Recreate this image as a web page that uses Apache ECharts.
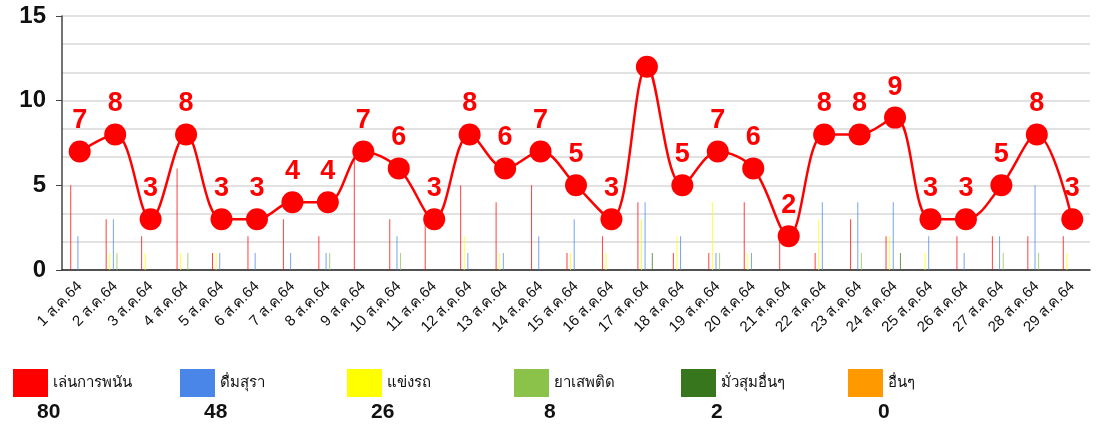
<!DOCTYPE html>
<html>
<head>
<meta charset="utf-8">
<script src="https://cdn.jsdelivr.net/npm/echarts@6/dist/echarts.min.js"></script>
<style>
  html, body { margin: 0; padding: 0; background: #fff; }
  #chart { width: 1096px; height: 425px; }
</style>
</head>
<body>
<div id="chart"></div>
<script>
// วันที่
const days = [];
for (let d = 1; d <= 29; d++) days.push(d + ' ส.ค.64');

// รายวันแต่ละประเภท
const gambling = [5, 3, 2, 6, 1, 2, 3, 2, 7, 3, 3, 5, 4, 5, 1, 2, 4, 1, 1, 4, 2, 1, 3, 2, 0, 2, 2, 2, 2];
const racing   = [0, 1, 1, 1, 1, 0, 0, 0, 0, 0, 0, 2, 1, 0, 1, 1, 3, 2, 4, 1, 0, 3, 0, 2, 1, 0, 0, 0, 1];
const alcohol  = [2, 3, 0, 0, 1, 1, 1, 1, 0, 2, 0, 1, 1, 2, 3, 0, 4, 2, 1, 1, 0, 4, 4, 4, 2, 1, 2, 5, 0];
const drugs    = [0, 1, 0, 1, 0, 0, 0, 1, 0, 1, 0, 0, 0, 0, 0, 0, 0, 0, 1, 0, 0, 0, 1, 0, 0, 0, 1, 1, 0];
const gather   = [0, 0, 0, 0, 0, 0, 0, 0, 0, 0, 0, 0, 0, 0, 0, 0, 1, 0, 0, 0, 0, 0, 0, 1, 0, 0, 0, 0, 0];
const others   = [0, 0, 0, 0, 0, 0, 0, 0, 0, 0, 0, 0, 0, 0, 0, 0, 0, 0, 0, 0, 0, 0, 0, 0, 0, 0, 0, 0, 0];

// ยอดรวมรายวัน (ไม่มีป้ายตัวเลขบนจุดสูงสุด 17 ส.ค.)
const total = [7, 8, 3, 8, 3, 3, 4, 4, 7, 6, 3, 8, 6, 7, 5, 3, 12, 5, 7, 6, 2, 8, 8, 9, 3, 3, 5, 8, 3];
const hideLabelAt = [16];

// คำอธิบาย + ยอดรวม
const legendNames = ['เล่นการพนัน', 'ดื่มสุรา', 'แข่งรถ', 'ยาเสพติด', 'มั่วสุมอื่นๆ', 'อื่นๆ'];
const legendTotals = [80, 48, 26, 8, 2, 0];

const colors = {
  'เล่นการพนัน': '#ff0000',
  'ดื่มสุรา': '#4a86e8',
  'แข่งรถ': '#ffff00',
  'ยาเสพติด': '#8bc34a',
  'มั่วสุมอื่นๆ': '#38761d',
  'อื่นๆ': '#ff9900',
};

const barData = [
  ['เล่นการพนัน', gambling],
  ['แข่งรถ', racing],
  ['ดื่มสุรา', alcohol],
  ['ยาเสพติด', drugs],
  ['มั่วสุมอื่นๆ', gather],
  ['อื่นๆ', others],
];

const font = '"Liberation Sans", "Noto Sans", sans-serif';
const legendLeft = [8, 175, 342, 509, 676, 843];

const chart = echarts.init(document.getElementById('chart'));

const series = barData.map(([name, data]) => ({
  name,
  type: 'bar',
  data,
  barWidth: 1,
  barGap: '260%',
  itemStyle: { color: colors[name], opacity: 0.75 },
  emphasis: { disabled: true },
}));

series.push({
  name: 'รวม',
  type: 'line',
  data: total.map((v, i) => (hideLabelAt.includes(i) ? { value: v, label: { show: false } } : v)),
  smooth: 0.35,
  symbol: 'circle',
  symbolSize: 22,
  z: 5,
  lineStyle: { color: '#ff0000', width: 2.5 },
  itemStyle: { color: '#ff0000' },
  label: {
    show: true,
    position: 'top',
    distance: 6,
    color: '#ff0000',
    fontSize: 27,
    fontWeight: 'bold',
    fontFamily: font,
  },
});

chart.setOption({
  animation: false,
  textStyle: { fontFamily: font },
  grid: { left: 62, right: 6, top: 16, bottom: 155 },
  legend: legendNames.map((n, i) => ({
    data: [n],
    left: legendLeft[i],
    top: 364,
    icon: 'rect',
    itemWidth: 35,
    itemHeight: 28,
    itemGap: 4,
    selectedMode: false,
    itemStyle: { opacity: 1 },
    textStyle: { fontSize: 15, color: '#111', fontFamily: font },
  })),
  title: legendNames.map((n, i) => ({
    text: String(legendTotals[i]),
    left: legendLeft[i] + 36 - (String(legendTotals[i]).length * 6),
    top: 397,
    textStyle: { fontSize: 21, fontWeight: 'bold', color: '#111', fontFamily: font },
  })),
  xAxis: {
    type: 'category',
    data: days,
    axisLine: { lineStyle: { color: '#222', width: 1.5 } },
    axisTick: { show: false },
    axisLabel: {
      rotate: 45,
      interval: 0,
      margin: 14,
      fontSize: 15,
      color: '#111',
      fontFamily: font,
    },
  },
  yAxis: {
    type: 'value',
    min: 0,
    max: 15,
    interval: 5,
    axisLine: { show: true, lineStyle: { color: '#444', width: 1.5 } },
    axisTick: { show: true, length: 6, lineStyle: { color: '#444' } },
    axisLabel: { fontSize: 24, fontWeight: 'bold', color: '#111', margin: 16, fontFamily: font },
    splitLine: { lineStyle: { color: '#d9d9d9', width: 1.5 } },
    minorTick: { show: false, splitNumber: 3 },
    minorSplitLine: { show: true, lineStyle: { color: '#d9d9d9', width: 1.5 } },
  },
  series,
});
</script>
</body>
</html>
